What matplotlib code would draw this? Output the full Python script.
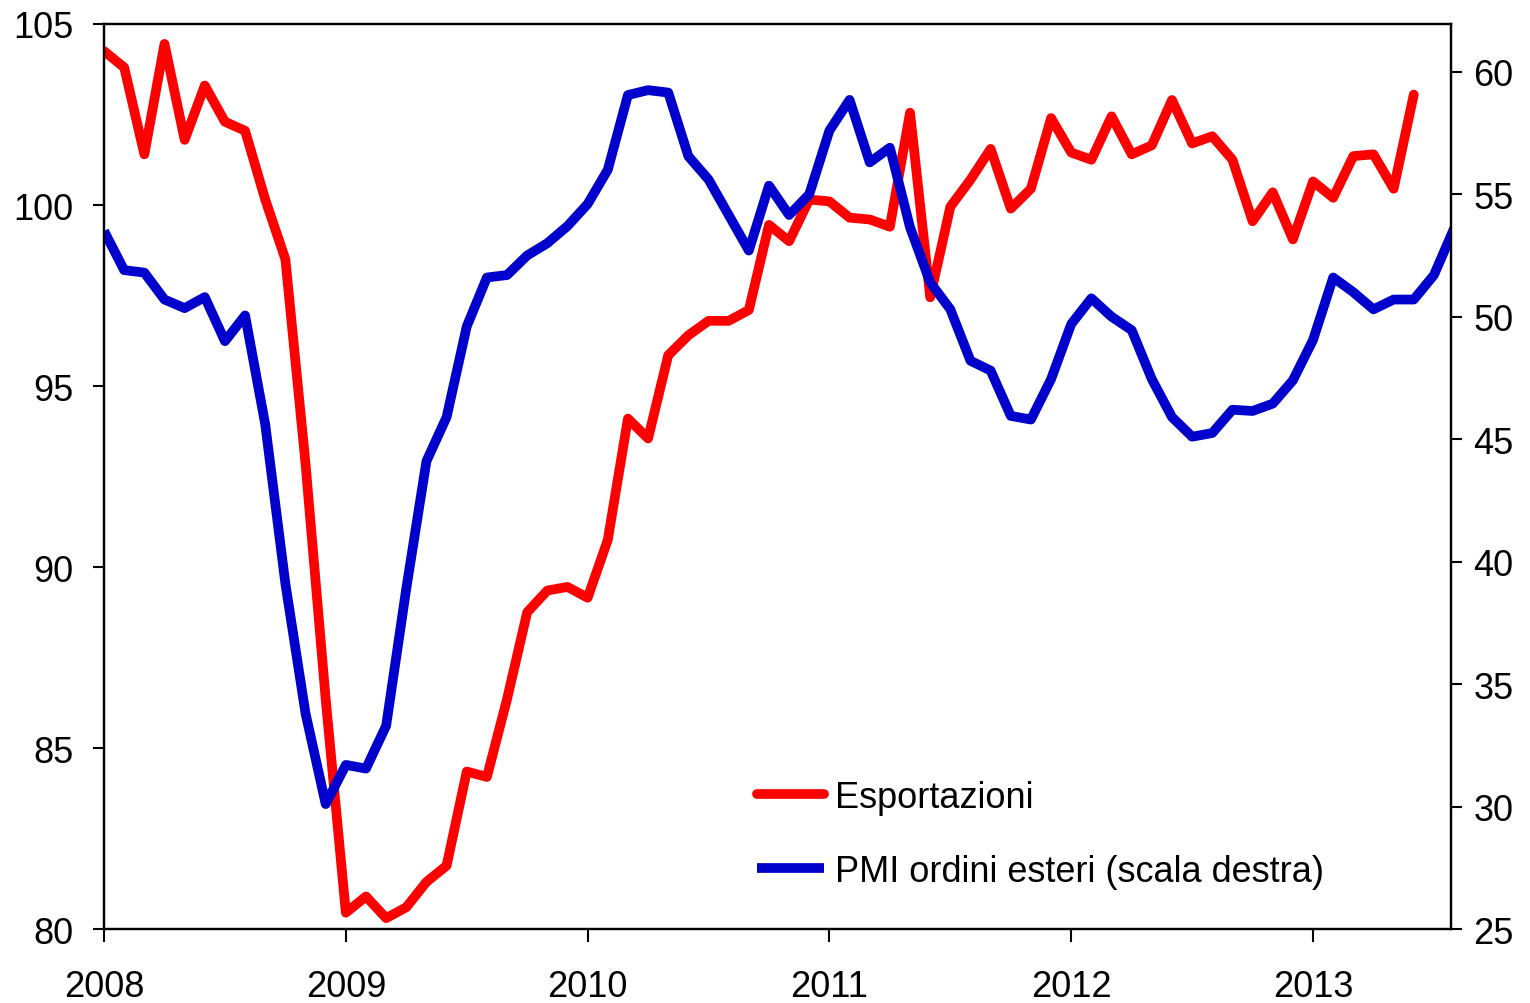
import numpy as np
import matplotlib.pyplot as plt

plt.rcParams['font.family'] = ['Liberation Sans', 'DejaVu Sans']

# monthly data, Jan 2008 onwards
esportazioni = [104.25, 103.8, 101.4, 104.45, 101.8, 103.3, 102.3, 102.05, 100.15, 98.5,
                92.85, 86.35, 80.45, 80.9, 80.3, 80.6, 81.3, 81.75, 84.35, 84.2,
                86.35, 88.75, 89.35, 89.45, 89.15, 90.75, 94.1, 93.55, 95.85, 96.4,
                96.8, 96.8, 97.1, 99.45, 99.0, 100.15, 100.1, 99.65, 99.6, 99.4,
                102.55, 97.45, 99.95, 100.7, 101.55, 99.9, 100.45, 102.4, 101.45, 101.25,
                102.45, 101.4, 101.65, 102.9, 101.7, 101.9, 101.25, 99.55, 100.35, 99.05,
                100.65, 100.2, 101.35, 101.4, 100.45, 103.05]
pmi_ordini_esteri = [53.5, 51.9, 51.8, 50.7, 50.35, 50.8, 49.0, 50.05, 45.6, 39.1,
                     33.8, 30.1, 31.7, 31.55, 33.3, 38.9, 44.1, 45.9, 49.6, 51.6,
                     51.7, 52.5, 53.0, 53.7, 54.6, 56.0, 59.05, 59.25, 59.15, 56.55,
                     55.6, 54.15, 52.7, 55.35, 54.15, 55.0, 57.6, 58.85, 56.3, 56.9,
                     53.65, 51.4, 50.3, 48.2, 47.8, 45.95, 45.8, 47.45, 49.7, 50.75,
                     50.0, 49.45, 47.45, 45.9, 45.1, 45.25, 46.2, 46.15, 46.45, 47.4,
                     49.05, 51.6, 51.0, 50.3, 50.7, 50.7, 51.7, 53.6]
years = ['2008', '2009', '2010', '2011', '2012', '2013']

fig = plt.figure(figsize=(15.3, 10.04), dpi=100)
ax = fig.add_axes([0.068, 0.0737, 0.8804, 0.9014])
ax2 = ax.twinx()

l1, = ax.plot(np.arange(len(esportazioni)), esportazioni, color='#ff0000', lw=7,
              solid_joinstyle='round', solid_capstyle='round', label='Esportazioni')
l2, = ax2.plot(np.arange(len(pmi_ordini_esteri)), pmi_ordini_esteri, color='#0000cc', lw=7,
               solid_joinstyle='round', solid_capstyle='butt',
               label='PMI ordini esteri (scala destra)')

ax.set_xlim(0, 66.85)
ax.set_ylim(80, 105)
ax2.set_ylim(25, 61.95)
ax.set_yticks(np.arange(80, 106, 5))
ax2.set_yticks(np.arange(25, 61, 5))
ax.set_xticks(np.arange(0, 61, 12))
ax.set_xticklabels(years)

for a in (ax, ax2):
    for s in a.spines.values():
        s.set_linewidth(1.6)
ax.tick_params(axis='y', direction='out', length=8, width=1.5, labelsize=26, pad=14)
ax.tick_params(axis='x', direction='out', length=9, width=1.5, labelsize=26, pad=20)
ax2.tick_params(axis='y', direction='out', length=8, width=1.5, labelsize=26, pad=8)

leg = ax2.legend(handles=[l1, l2], loc='upper left', frameon=False, fontsize=26,
                 bbox_to_anchor=(757 / 1530, 1 - 781 / 1004), bbox_transform=fig.transFigure,
                 borderaxespad=0, borderpad=0, handlelength=1.85, handletextpad=0.3,
                 labelspacing=1.07)

plt.savefig('out.png', dpi=100)
